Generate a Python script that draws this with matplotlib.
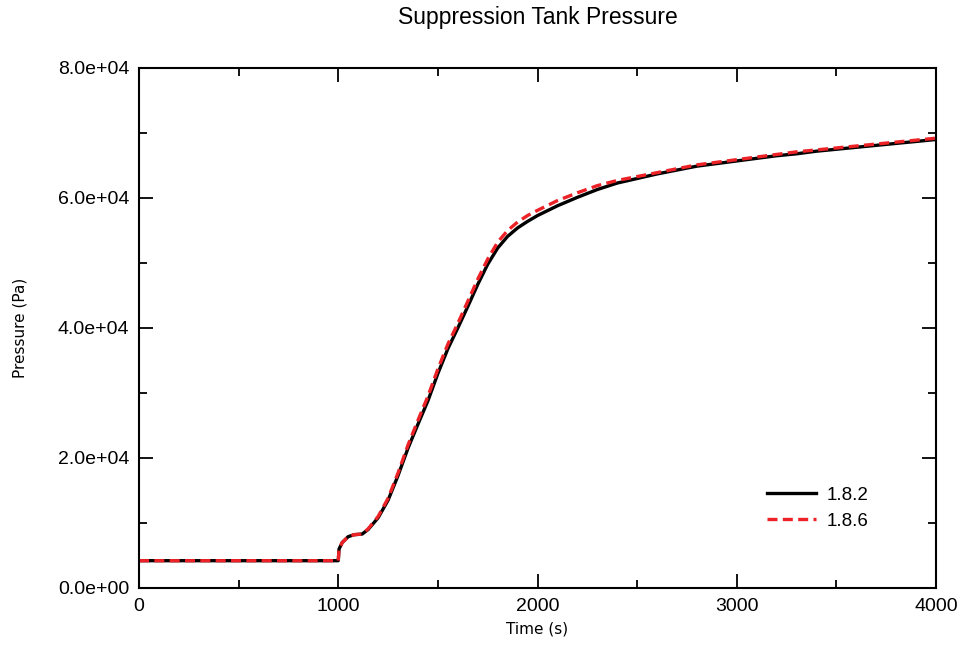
import matplotlib
matplotlib.use("Agg")
import matplotlib.pyplot as plt
from matplotlib.ticker import MultipleLocator, FuncFormatter

# time (s) and pressure (Pa)
t_182 = [0, 1000, 1004, 1020, 1050, 1080, 1120, 1150, 1200, 1250, 1300, 1350,
         1400, 1450, 1500, 1550, 1600, 1650, 1700, 1750, 1800, 1850, 1900,
         1950, 2000, 2100, 2200, 2300, 2400, 2500, 2600, 2700, 2800, 2900,
         3000, 3100, 3200, 3300, 3400, 3500, 3600, 3700, 3800, 3900, 4000]
p_182 = [4200, 4200, 6000, 7000, 7900, 8200, 8300, 9000, 10800, 13500, 17300, 21500,
         25200, 28800, 33000, 36800, 40000, 43300, 46700, 49800, 52300, 54100, 55400,
         56400, 57300, 58800, 60100, 61300, 62300, 63000, 63700, 64300, 64900, 65300,
         65700, 66100, 66500, 66800, 67200, 67500, 67800, 68100, 68400, 68700, 69000]

t_186 = [0, 1000, 1004, 1020, 1050, 1080, 1120, 1150, 1200, 1250, 1300, 1350,
         1400, 1450, 1500, 1550, 1600, 1650, 1700, 1750, 1800, 1850, 1900,
         1950, 2000, 2100, 2200, 2300, 2400, 2500, 2600, 2700, 2800, 2900,
         3000, 3100, 3200, 3300, 3400, 3500, 3600, 3700, 3800, 3900, 4000]
p_186 = [4200, 4200, 6000, 7000, 7900, 8200, 8300, 9100, 11000, 13800, 17700, 22000,
         25800, 29500, 33700, 37500, 40700, 44100, 47500, 50600, 53200, 55000, 56300,
         57300, 58100, 59600, 60800, 61900, 62700, 63300, 63900, 64500, 65100, 65500,
         65900, 66300, 66700, 67100, 67400, 67700, 68000, 68300, 68600, 68900, 69200]

plt.rcParams['font.family'] = ['Liberation Sans', 'DejaVu Sans']

fig = plt.figure(figsize=(9.62, 6.47), dpi=100)
ax = fig.add_axes([0.1445, 0.0912, 0.8285, 0.8037])

ax.plot(t_182, p_182, color='black', lw=2.4, label='1.8.2')
ax.plot(t_186, p_186, color='#ec2227', lw=2.4, ls=(0, (3, 1.6)), label='1.8.6')

ax.set_xlim(0, 4000)
ax.set_ylim(0, 80000)
ax.xaxis.set_major_locator(MultipleLocator(1000))
ax.xaxis.set_minor_locator(MultipleLocator(500))
ax.yaxis.set_major_locator(MultipleLocator(20000))
ax.yaxis.set_minor_locator(MultipleLocator(10000))
ax.yaxis.set_major_formatter(FuncFormatter(lambda v, pos: f"{v:.1e}"))

ax.tick_params(which='both', direction='in', top=True, right=True, width=1.3, labelsize=14)
ax.tick_params(which='major', length=10, pad=7)
ax.tick_params(which='minor', length=6)
for s in ax.spines.values():
    s.set_linewidth(1.5)

ax.set_title("Suppression Tank Pressure", fontsize=16.5, pad=32)
ax.set_xlabel("Time (s)", fontsize=11, family='DejaVu Sans', labelpad=5)
ax.set_ylabel("Pressure (Pa)", fontsize=11, family='DejaVu Sans', labelpad=22)

ax.legend(loc='lower right', bbox_to_anchor=(0.937, 0.08), frameon=False, fontsize=13.5,
          handlelength=2.6, handletextpad=0.6, labelspacing=0.45)

fig.savefig("out.png", dpi=100)
